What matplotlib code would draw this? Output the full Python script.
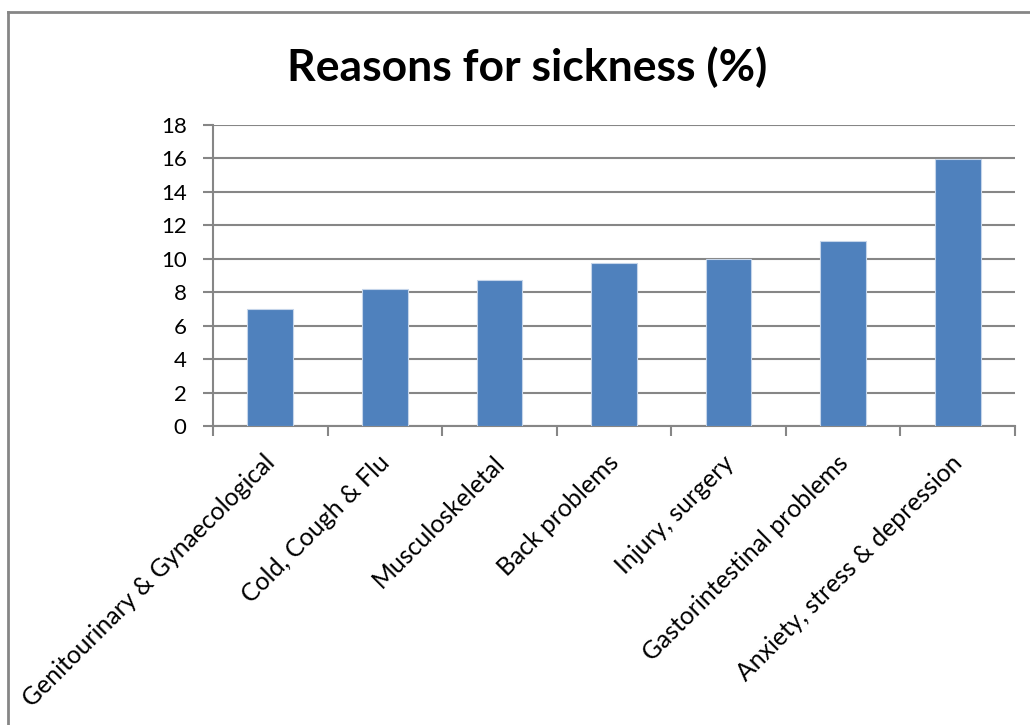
import matplotlib
matplotlib.use("Agg")
import matplotlib.pyplot as plt
from matplotlib.lines import Line2D
import matplotlib.transforms as mtransforms
import numpy as np

categories = ["Genitourinary & Gynaecological", "Cold, Cough & Flu", "Musculoskeletal",
              "Back problems", "Injury, surgery", "Gastorintestinal problems",
              "Anxiety, stress & depression"]
values = [7.0, 8.22, 8.76, 9.76, 10.0, 11.06, 15.97]
yticks = [0, 2, 4, 6, 8, 10, 12, 14, 16, 18]
title = "Reasons for sickness (%)"

W, H = 1030, 725
plt.rcParams['font.family'] = ['Lato', 'DejaVu Sans']
fig = plt.figure(figsize=(W / 100, H / 100), dpi=100)

ax_l, ax_r, ax_t, ax_b = 213, 1015, 125, 426
ax = fig.add_axes([ax_l / W, 1 - ax_b / H, (ax_r - ax_l) / W, (ax_b - ax_t) / H])

grid_c = "#868686"
x = np.arange(len(categories))
ax.bar(x, values, width=0.4, color="#4F81BD", edgecolor="#C5D5EA", linewidth=0.8, zorder=3)
ax.set_xlim(-0.5, len(categories) - 0.5)
ax.set_ylim(0, 18)
ax.set_yticks(yticks)
ax.set_yticklabels([str(v) for v in yticks], fontsize=16)
ax.yaxis.grid(True, color=grid_c, linewidth=1.5, zorder=0)
ax.set_axisbelow(True)

ax.set_xticks(np.arange(-0.5, len(categories), 1.0))
ax.set_xticklabels([])
ax.set_xticks(x, minor=True)
ax.set_xticklabels(categories, minor=True, rotation=45, ha='right', va='top',
                   rotation_mode='anchor', fontsize=17.8)
ax.tick_params(axis='x', which='minor', length=0, pad=18)
ax.tick_params(axis='x', which='major', length=7, width=1.5, color=grid_c, direction='out')
ax.tick_params(axis='y', length=7, width=1.5, color=grid_c, direction='out', pad=12)

offset = mtransforms.ScaledTranslation(-7 / 100, 0, fig.dpi_scale_trans)
for lbl in ax.get_xticklabels(minor=True):
    lbl.set_transform(lbl.get_transform() + offset)

for s in ['top', 'right']:
    ax.spines[s].set_visible(False)
for s in ['left', 'bottom']:
    ax.spines[s].set_color(grid_c)
    ax.spines[s].set_linewidth(1.5)

fig.text(527 / W, 1 - 67 / H, title, fontsize=32, fontweight='bold', ha='center', va='center')

# outer chart frame
fig.add_artist(Line2D([8 / W, 8 / W], [0, 1 - 12 / H], transform=fig.transFigure, color=grid_c, linewidth=2))
fig.add_artist(Line2D([8 / W, 1], [1 - 12 / H, 1 - 12 / H], transform=fig.transFigure, color=grid_c, linewidth=2))

fig.savefig("out.png", dpi=100)
